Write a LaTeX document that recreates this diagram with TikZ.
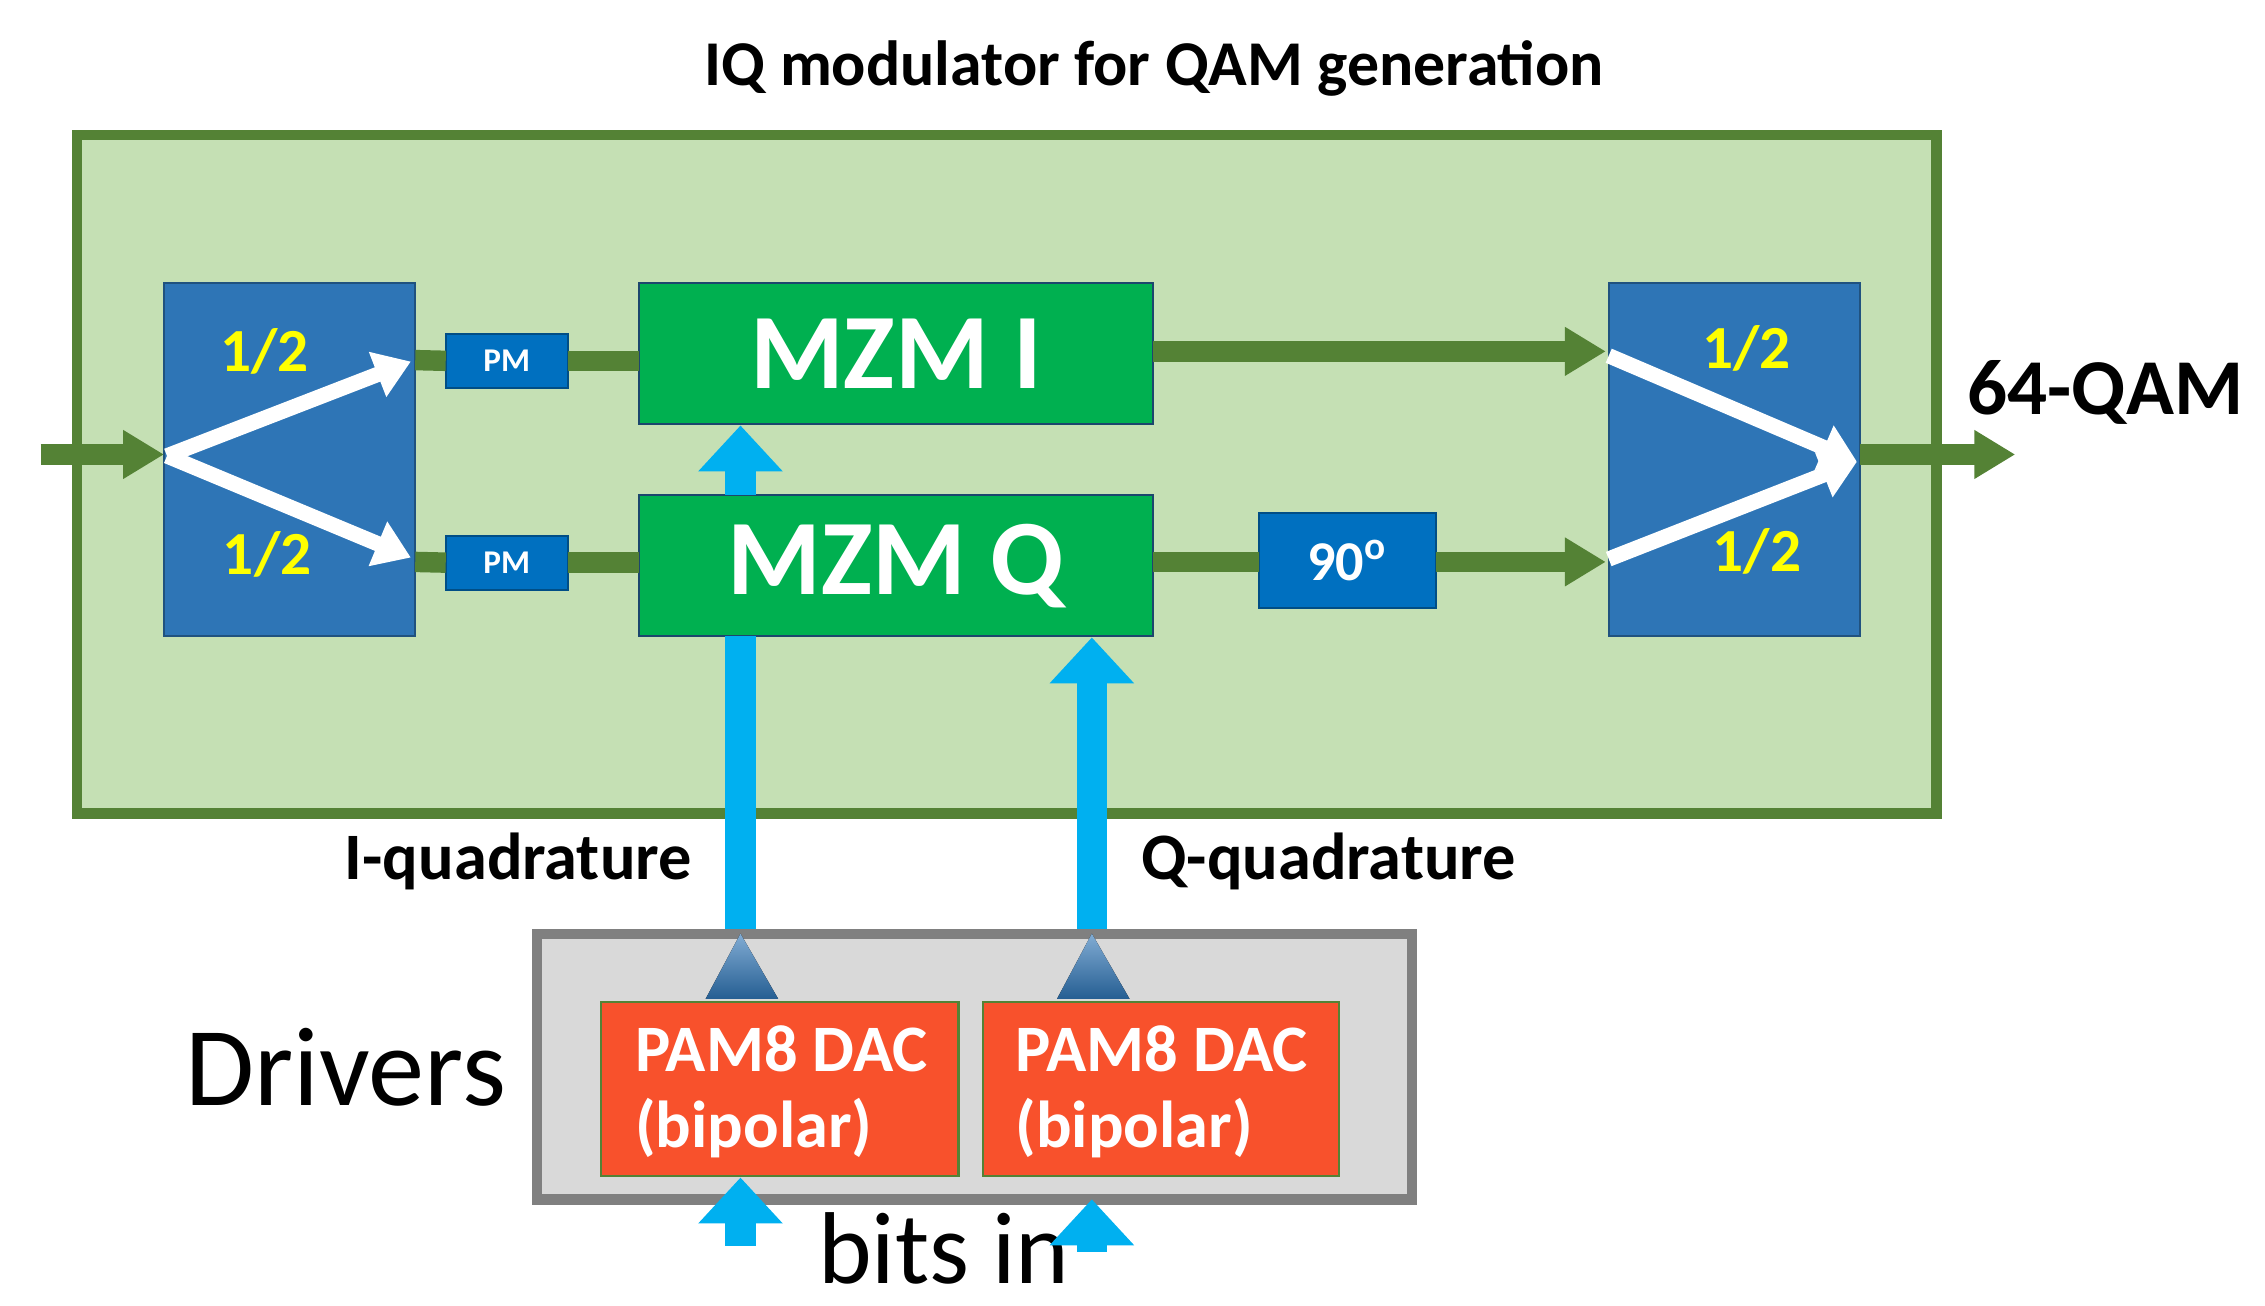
\documentclass[tikz,border=0pt]{standalone}
\usepackage{fontspec}
\setmainfont{Carlito}
\usetikzlibrary{arrows.meta}
\definecolor{lg}{HTML}{C5E0B4}
\definecolor{dg}{HTML}{548235}
\definecolor{bl}{HTML}{2E75B6}
\definecolor{bl2}{HTML}{0070C0}
\definecolor{mz}{HTML}{00B050}
\definecolor{cy}{HTML}{00B0F0}
\definecolor{rd}{HTML}{F8512C}
\definecolor{yl}{HTML}{FFFF00}
\begin{document}
\begin{tikzpicture}[x=0.01cm,y=-0.01cm,
  box/.style={draw,anchor=north west,inner sep=0,outer sep=0},
  gl/.style={dg,line width=4pt},
  ga/.style={gl,-{Triangle[length=8pt,width=9pt]}},
  wa/.style={white,line width=3pt,-{Triangle[length=7pt,width=9pt]}},
  ca/.style={cy,line width=6pt,-{Triangle[length=9pt,width=16pt]}},
  half/.style={text=yl,font=\bfseries\fontsize{12}{12}\selectfont},
  lbl/.style={font=\bfseries\fontsize{13}{13}\selectfont}]
\useasboundingbox (0,0) rectangle (1560,899);
\node[font=\bfseries\fontsize{12.5}{13}\selectfont] (title) at (795,47) {IQ modulator for QAM generation};
\node[box,draw=dg,line width=2pt,fill=lg,minimum width=12.8cm,minimum height=4.67cm] (outer) at (53,93) {};
% splitter and combiner
\node[box,draw=bl!70!black,fill=bl,minimum width=1.73cm,minimum height=2.43cm] (sp) at (113,195) {};
\node[box,draw=bl!70!black,fill=bl,minimum width=1.73cm,minimum height=2.43cm] (cb) at (1108,195) {};
\coordinate (in) at (28,313);
\coordinate (spo) at (115,314);
\coordinate (cbo) at (1279,318);
\draw[ga] (in) -- (sp.west |- in);
\draw[wa] (spo) -- (283,249);
\draw[wa] (spo) -- (283,384);
\node[half] (h1) at (182,242) {1/2};
\node[half] (h2) at (184,382) {1/2};
\draw[wa] (1108,245) -- (cbo);
\draw[wa] (1108,385) -- (cbo);
\node[half] (h3) at (1203,240) {1/2};
\node[half] (h4) at (1210,380) {1/2};
% PM
\node[box,draw=bl2!70!black,fill=bl2,minimum width=0.84cm,minimum height=0.37cm] (pm1) at (307,230) {};
\node[text=white,font=\bfseries\fontsize{6.5}{6}\selectfont] at (pm1.center) {PM};
\node[box,draw=bl2!70!black,fill=bl2,minimum width=0.84cm,minimum height=0.37cm] (pm2) at (307,369) {};
\node[text=white,font=\bfseries\fontsize{6.5}{6}\selectfont] at (pm2.center) {PM};
% MZMs
\node[box,draw=bl!60!black,fill=mz,minimum width=3.54cm,minimum height=0.97cm] (mzi) at (440,195) {};
\node[text=white,font=\bfseries\fontsize{21}{21}\selectfont] at (mzi.center) {MZM I};
\node[box,draw=bl!60!black,fill=mz,minimum width=3.54cm,minimum height=0.97cm] (mzq) at (440,341) {};
\node[text=white,font=\bfseries\fontsize{21}{21}\selectfont] at (mzq.center) {MZM Q};
\node[box,draw=bl2!70!black,fill=bl2,minimum width=1.22cm,minimum height=0.66cm] (ph) at (867,353) {};
\node[text=white,font=\bfseries\fontsize{11}{11}\selectfont] at (ph.center) {90\textsuperscript{o}};
% green lines
\draw[gl] (286,248) -- (pm1.west);
\draw[gl] (pm1.east) -- (mzi.west |- pm1.east);
\draw[gl] (286,387) -- (pm2.west);
\draw[gl] (pm2.east) -- (mzq.west |- pm2.east);
\draw[ga] (794,242) -- (1106,242);
\draw[gl] (794,387) -- (ph.west |- 0,387);
\draw[ga] (ph.east |- 0,387) -- (1106,387);
\coordinate (out) at (1388,313);
\draw[ga] (cb.east |- 0,313) -- (out);
\node[font=\bfseries\fontsize{15.5}{16}\selectfont] (qam) at (1450,270) {64-QAM};
% drivers
\node[box,draw=gray,line width=2pt,fill=gray!30,minimum width=6.02cm,minimum height=1.83cm] (drv) at (370,643) {};
\node[box,draw=dg,fill=rd,minimum width=2.46cm,minimum height=1.2cm] (d1) at (414,690) {};
\node[box,draw=dg,fill=rd,minimum width=2.45cm,minimum height=1.2cm] (d2) at (677,690) {};
\node[text=white,font=\bfseries\fontsize{13}{15}\selectfont,align=left,anchor=west] at (425,752) {PAM8 DAC\\(bipolar)};
\node[text=white,font=\bfseries\fontsize{13}{15}\selectfont,align=left,anchor=west] at (687,752) {PAM8 DAC\\(bipolar)};
\fill[top color=bl!60,bottom color=bl!80!black] (486,688) -- (510,643) -- (536,688) -- cycle;
\fill[top color=bl!60,bottom color=bl!80!black] (728,688) -- (752,643) -- (778,688) -- cycle;
\node[font=\fontsize{22}{22}\selectfont] (dl) at (238,735) {Drivers};
\node[font=\fontsize{20}{20}\selectfont] (bits) at (650,860) {bits in};
% cyan connectors
\coordinate (ti) at (510,640);
\coordinate (tq) at (752,640);
\draw[cy,line width=6pt] (ti) -- (510,438);
\draw[ca] (tq) -- (752,439);
\draw[ca] (510,341) -- (510,293);
\coordinate (bi) at (510,858);
\coordinate (bq) at (752,862);
\draw[ca] (bi) -- (510,811);
\draw[ca] (bq) -- (752,826);
\node[lbl] (iq) at (357,593) {I-quadrature};
\node[lbl] (qq) at (915,593) {Q-quadrature};
\end{tikzpicture}
\end{document}
